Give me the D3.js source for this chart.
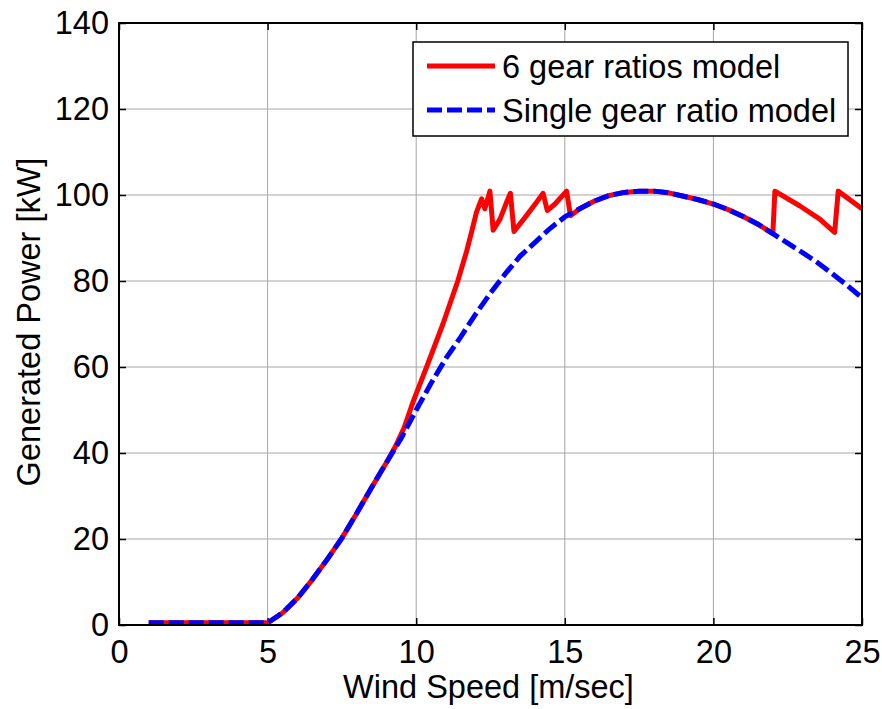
<!DOCTYPE html>
<html>
<head>
<meta charset="utf-8">
<script src="https://cdn.jsdelivr.net/npm/d3@7"></script>
<style>
  body { margin: 0; background: #fff; }
  svg text { font-family: Arial, "Liberation Sans", Helvetica, sans-serif; fill: #000; }
</style>
</head>
<body>
<div id="chart"></div>
<script>
// Single gear ratio model (blue dashed)
const singleSpeed = [1, 5, 5.5, 6, 6.5, 7, 7.5, 8, 8.5, 9, 9.5, 10, 10.5, 11, 11.5, 12, 12.5, 13,
  13.5, 14, 14.5, 15, 15.5, 16, 16.5, 17, 17.5, 18, 18.5, 19, 19.5, 20, 20.5, 21, 21.5, 22,
  22.5, 23, 23.5, 24, 24.5, 25];
const singlePower = [0.5, 0.5, 2.8, 6.2, 10.5, 15.2, 20.2, 26, 32, 37.8, 43.5, 50, 56.2, 62, 67, 72.3, 77.2, 81.7,
  85.8, 89, 92.2, 94.9, 96.8, 98.6, 99.9, 100.6, 100.9, 100.9, 100.5, 99.7, 98.9, 97.9, 96.6, 95.0, 93.2, 91.0,
  88.8, 86.6, 84.3, 81.7, 79, 76.1];

// 6 gear ratios model (red solid)
const gearSpeed = [1, 5, 5.5, 6, 6.5, 7, 7.5, 8, 8.5, 9, 9.3, 9.6, 9.9, 10.35, 10.9, 11.4, 11.7, 11.86, 12.03,
  12.2, 12.31, 12.48, 12.59, 12.82, 13.04, 13.17, 13.29, 13.71, 14.05, 14.27, 14.41, 14.67, 15.06, 15.19,
  15.5, 16, 16.5, 17, 17.5, 18, 18.5, 19, 19.5, 20, 20.5, 21, 21.5, 22, 22.07, 22.9, 23.58, 24.08, 24.2, 25];
const gearPower = [0.5, 0.5, 2.8, 6.2, 10.5, 15.2, 20.2, 26, 32, 37.8, 41.5, 46, 52, 60, 70, 80, 87, 91.3, 96,
  99.1, 96.8, 100.9, 91.8, 94.4, 98.3, 100.4, 91.5, 95.2, 98.3, 100.4, 96.4, 97.9, 100.9, 95.2,
  96.8, 98.6, 99.9, 100.6, 100.9, 100.9, 100.5, 99.7, 98.9, 97.9, 96.6, 95.0, 93.2, 91.0, 100.9, 97.5, 94.4, 91.3, 100.9, 96.8];

const xTicks = [0, 5, 10, 15, 20, 25];
const yTicks = [0, 20, 40, 60, 80, 100, 120, 140];
const seriesNames = ['6 gear ratios model', 'Single gear ratio model'];

const W = 882, H = 709;
const margin = { top: 23, right: 20, bottom: 84, left: 119 };
const width = W - margin.left - margin.right;
const height = H - margin.top - margin.bottom;

const svg = d3.select('#chart').append('svg')
  .attr('width', W)
  .attr('height', H);

const g = svg.append('g')
  .attr('transform', `translate(${margin.left},${margin.top})`);

const x = d3.scaleLinear().domain([0, 25]).range([0, width]);
const y = d3.scaleLinear().domain([0, 140]).range([height, 0]);

// grid
g.append('g').selectAll('line').data(xTicks.slice(1, -1)).enter().append('line')
  .attr('x1', d => x(d)).attr('x2', d => x(d))
  .attr('y1', 0).attr('y2', height)
  .attr('stroke', '#a6a6a6').attr('stroke-width', 1);
g.append('g').selectAll('line').data(yTicks.slice(1, -1)).enter().append('line')
  .attr('y1', d => y(d)).attr('y2', d => y(d))
  .attr('x1', 0).attr('x2', width)
  .attr('stroke', '#a6a6a6').attr('stroke-width', 1);

// axes with inward ticks
const fs = 32.5;
const xAxis = g.append('g').attr('transform', `translate(0,${height})`)
  .call(d3.axisBottom(x).tickValues(xTicks).tickSize(-7).tickPadding(15));
const yAxis = g.append('g')
  .call(d3.axisLeft(y).tickValues(yTicks).tickSize(-7).tickPadding(10));
g.append('g').call(d3.axisTop(x).tickValues(xTicks).tickSize(-7).tickFormat(''));
g.append('g').attr('transform', `translate(${width},0)`)
  .call(d3.axisRight(y).tickValues(yTicks).tickSize(-7).tickFormat(''));

g.selectAll('.domain').remove();
g.selectAll('.tick line').attr('stroke', '#000').attr('stroke-width', 1.5);
xAxis.selectAll('text').style('font-size', fs + 'px').attr('dy', '0.71em');
yAxis.selectAll('text').style('font-size', fs + 'px');

// data lines
const line = d3.line().x(d => x(d[0])).y(d => y(d[1]));
const gearData = gearSpeed.map((s, i) => [s, gearPower[i]]);
const singleData = singleSpeed.map((s, i) => [s, singlePower[i]]);

g.append('path').datum(gearData)
  .attr('d', line)
  .attr('fill', 'none')
  .attr('stroke', '#ff0000')
  .attr('stroke-width', 5)
  .attr('stroke-linejoin', 'round');

g.append('path').datum(singleData)
  .attr('d', line)
  .attr('fill', 'none')
  .attr('stroke', '#0000ff')
  .attr('stroke-width', 5)
  .attr('stroke-dasharray', '15,5');

// box
g.append('rect')
  .attr('width', width).attr('height', height)
  .attr('fill', 'none').attr('stroke', '#000').attr('stroke-width', 2);

// axis labels
svg.append('text')
  .attr('x', margin.left + width / 2 - 2)
  .attr('y', 698)
  .attr('text-anchor', 'middle')
  .style('font-size', fs + 'px')
  .text('Wind Speed [m/sec]');

svg.append('text')
  .attr('transform', `translate(40,${margin.top + height / 2 - 2}) rotate(-90)`)
  .attr('text-anchor', 'middle')
  .style('font-size', fs + 'px')
  .text('Generated Power [kW]');

// legend
const legend = svg.append('g').attr('transform', 'translate(413,42)');
legend.append('rect')
  .attr('width', 435).attr('height', 94)
  .attr('fill', '#fff').attr('stroke', '#000').attr('stroke-width', 1.5);

const legendStyles = [
  { color: '#ff0000', dash: null },
  { color: '#0000ff', dash: '15,5' }
];
seriesNames.forEach((name, i) => {
  const ly = 24 + i * 44;
  legend.append('line')
    .attr('x1', 14).attr('x2', 82)
    .attr('y1', ly).attr('y2', ly)
    .attr('stroke', legendStyles[i].color)
    .attr('stroke-width', 5)
    .attr('stroke-dasharray', legendStyles[i].dash);
  legend.append('text')
    .attr('x', 89).attr('y', ly)
    .attr('dy', '0.36em')
    .style('font-size', fs + 'px')
    .text(name);
});
</script>
</body>
</html>
